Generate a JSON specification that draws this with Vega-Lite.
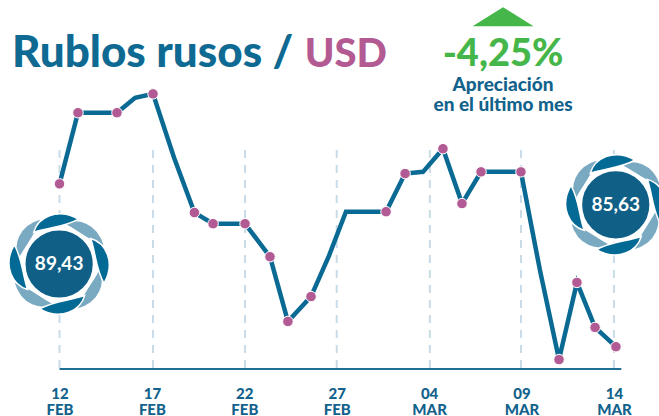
{"$schema":"https://vega.github.io/schema/vega-lite/v6.json","width":659,"height":369,"autosize":"none","padding":{"left":0,"top":0,"right":0,"bottom":47},"background":"white","config":{"view":{"stroke":null},"font":"Lato"},
"datasets":{
"serie":[{"dia":0,"valor":89.43,"marca":true},{"dia":1.0,"valor":91.09,"marca":true},{"dia":3.11,"valor":91.09,"marca":true},{"dia":4.09,"valor":91.44,"marca":false},{"dia":5.06,"valor":91.53,"marca":true},{"dia":6.2,"valor":90.04,"marca":false},{"dia":7.3,"valor":88.76,"marca":true},{"dia":8.31,"valor":88.5,"marca":true},{"dia":10.04,"valor":88.5,"marca":true},{"dia":11.39,"valor":87.73,"marca":true},{"dia":12.36,"valor":86.22,"marca":true},{"dia":13.61,"valor":86.8,"marca":true},{"dia":14.58,"valor":87.75,"marca":false},{"dia":15.5,"valor":88.78,"marca":false},{"dia":17.67,"valor":88.78,"marca":true},{"dia":18.7,"valor":89.67,"marca":true},{"dia":19.67,"valor":89.71,"marca":false},{"dia":20.75,"valor":90.25,"marca":true},{"dia":21.78,"valor":88.97,"marca":true},{"dia":22.81,"valor":89.71,"marca":true},{"dia":24.97,"valor":89.71,"marca":true},{"dia":26.0,"valor":87.41,"marca":false},{"dia":27.03,"valor":85.33,"marca":true},{"dia":28.0,"valor":87.13,"marca":true},{"dia":28.98,"valor":86.08,"marca":true},{"dia":30.11,"valor":85.63,"marca":true}],
"guias":[{"dia":0,"valor":90.22,"base":85.11},{"dia":5.06,"valor":90.22,"base":85.11},{"dia":10.04,"valor":90.22,"base":85.11},{"dia":15,"valor":90.22,"base":85.11},{"dia":20.04,"valor":90.22,"base":85.11},{"dia":24.97,"valor":90.22,"base":85.11},{"dia":30,"valor":90.22,"base":85.11}],
"base":[{"dia":0,"fin":30.4,"valor":85.11}],
"insignias":[{"dia":-0.02,"valor":87.56,"texto":"89,43"},{"dia":30.1,"valor":88.94,"texto":"85,63"}],
"titulo":[{"dia":-2.57,"valor":92.15,"texto":"Rublos rusos /"}],
"moneda":[{"dia":13.27,"valor":92.15,"texto":"USD"}],
"flecha":[{"dia":24.0,"valor":93.33}],
"cambio":[{"dia":24.0,"valor":92.18,"texto":"-4,25%"}],
"nota":[{"dia":24.0,"valor":91.59,"texto":"Apreciación"},{"dia":24.0,"valor":91.13,"texto":"en el último mes"}]
},
"encoding":{
"x":{"field":"dia","type":"quantitative","scale":{"domain":[-3.22,32.44],"nice":false,"zero":false},"axis":{"title":null,"grid":false,"domain":false,"ticks":false,"values":[0,5,10,15,20,25,30],"labelExpr":"[['12','FEB'],['17','FEB'],['22','FEB'],['27','FEB'],['04','MAR'],['09','MAR'],['14','MAR']][round(datum.value/5)]","labelFont":"Lato","labelFontWeight":900,"labelFontSize":15,"labelColor":"#12628c","labelPadding":17,"labelLineHeight":16,"labelAngle":0}},
"y":{"field":"valor","type":"quantitative","scale":{"domain":[85.11,93.72],"nice":false,"zero":false},"axis":null}
},
"layer":[
{"data":{"name":"guias"},"mark":{"type":"rule","color":"#c8dbe6","strokeWidth":2,"strokeDash":[8,7]},"encoding":{"y2":{"field":"base"}}},
{"data":{"name":"base"},"mark":{"type":"rule","color":"#1f6f97","strokeWidth":2},"encoding":{"x2":{"field":"fin"}}},
{"data":{"name":"serie"},"mark":{"type":"line","color":"#0b6a94","strokeWidth":4.5,"strokeJoin":"miter"},"encoding":{}},
{"data":{"name":"serie"},"transform":[{"filter":"datum.marca"}],"mark":{"type":"point","shape":"circle","filled":true,"fill":"#b25a94","stroke":"#ffffff","strokeWidth":1,"opacity":1,"size":110},"encoding":{}},
{"data":{"name":"insignias"},"mark":{"type":"point","filled":true,"fill":"#7aa9c2","stroke":"#ffffff","strokeWidth":1.5,"opacity":1,"size":10404,"shape":"M.085,-.79C.34,-.93,.76,-.83,.89,-.35C.58,-.44,.37,-.65,.085,-.79ZM.79,.085C.93,.34,.83,.76,.35,.89C.44,.58,.65,.37,.79,.085ZM-.085,.79C-.34,.93,-.76,.83,-.89,.35C-.58,.44,-.37,.65,-.085,.79ZM-.79,-.085C-.93,-.34,-.83,-.76,-.35,-.89C-.44,-.58,-.65,-.37,-.79,-.085Z"},"encoding":{}},
{"data":{"name":"insignias"},"mark":{"type":"point","filled":true,"fill":"#036a96","stroke":"#ffffff","strokeWidth":1.5,"opacity":1,"size":10404,"shape":"M-.5,-.62C-.42,-.9,-.05,-1.12,.38,-.88C.1,-.72,-.2,-.72,-.5,-.62ZM.62,-.5C.9,-.42,1.12,-.05,.88,.38C.72,.1,.72,-.2,.62,-.5ZM.5,.62C.42,.9,.05,1.12,-.38,.88C-.1,.72,.2,.72,.5,.62ZM-.62,.5C-.9,.42,-1.12,.05,-.88,-.38C-.72,-.1,-.72,.2,-.62,.5Z"},"encoding":{}},
{"data":{"name":"insignias"},"mark":{"type":"point","shape":"circle","filled":true,"fill":"#0f5f87","stroke":"#ffffff","strokeWidth":3.5,"opacity":1,"size":5000},"encoding":{}},
{"data":{"name":"insignias"},"mark":{"type":"text","font":"Lato","fontWeight":"bold","fontSize":19,"color":"#ffffff","align":"center","baseline":"middle"},"encoding":{"text":{"field":"texto"}}},
{"data":{"name":"titulo"},"mark":{"type":"text","font":"Lato","fontWeight":900,"fontSize":44,"color":"#0e6a92","align":"left","baseline":"alphabetic"},"encoding":{"text":{"field":"texto"}}},
{"data":{"name":"moneda"},"mark":{"type":"text","font":"Lato","fontWeight":900,"fontSize":40,"color":"#b35a92","align":"left","baseline":"alphabetic"},"encoding":{"text":{"field":"texto"}}},
{"data":{"name":"flecha"},"mark":{"type":"point","filled":true,"fill":"#45b649","strokeWidth":0,"opacity":1,"size":3721,"shape":"M-1,.31L0,-.31L1,.31Z"},"encoding":{}},
{"data":{"name":"cambio"},"mark":{"type":"text","font":"Lato","fontWeight":900,"fontSize":38,"color":"#45b649","align":"center","baseline":"alphabetic"},"encoding":{"text":{"field":"texto"}}},
{"data":{"name":"nota"},"mark":{"type":"text","font":"Lato","fontWeight":900,"fontSize":19,"color":"#12628c","align":"center","baseline":"alphabetic"},"encoding":{"text":{"field":"texto"}}}
]}
